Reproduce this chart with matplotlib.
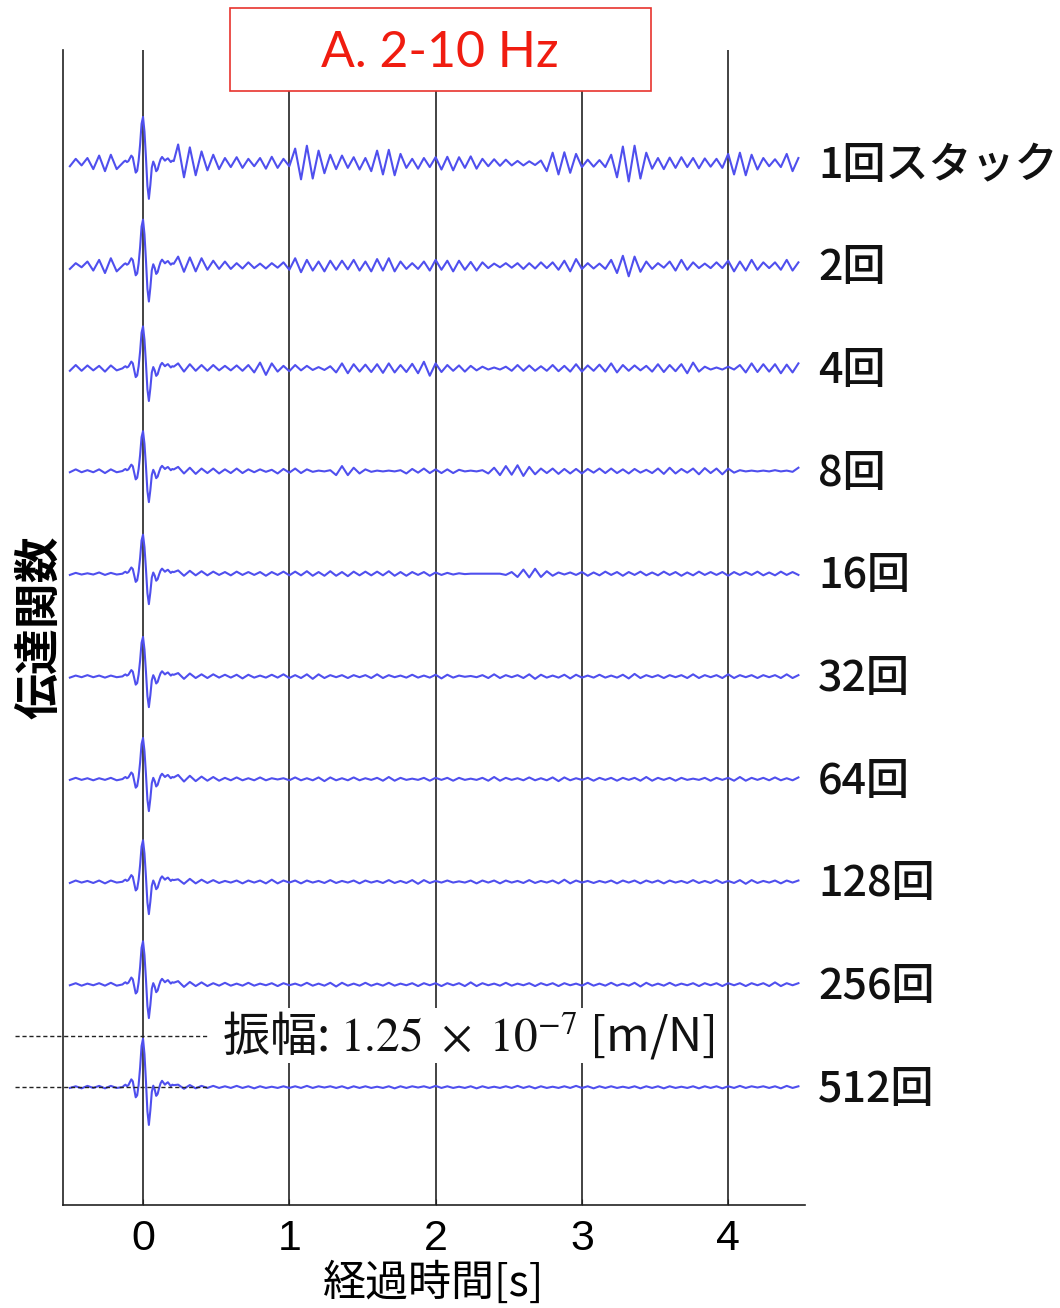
import numpy as np
import matplotlib
matplotlib.use("Agg")
import matplotlib.pyplot as plt
from matplotlib import font_manager
from matplotlib.patches import Rectangle

# ---------------------------------------------------------------
# Data: transfer functions for increasing stack counts (2-10 Hz band)
# amplitudes in units of 1e-9 m/N for noise, pulse normalised
# ---------------------------------------------------------------
stack_labels = ["1回スタック", "2回", "4回", "8回", "16回", "32回",
                "64回", "128回", "256回", "512回"]

# normalised main pulse, sampled every 0.01 s from -0.14 s
pulse_shape = [0.00, 0.03, 0.05, 0.02, 0.04, 0.10, 0.16, 0.12, -0.04, -0.21,
               -0.17, 0.05, 0.40, 0.85, 1.00, 0.68, 0.12, -0.50, -0.78, -0.48,
               -0.10, 0.03, -0.05, -0.18, -0.14, -0.02, 0.08, 0.13, 0.09, 0.05,
               0.08, 0.10, 0.06, 0.02, 0.05, 0.04]
# pulse peak per trace [1e-7 m/N]
pulse_peak = [1.12, 1.12, 1.02, 0.97, 0.95, 0.96, 1.00, 1.01, 1.05, 1.18]

# noise before the pulse: -0.50 ... -0.18 s every 0.04 s  [1e-9 m/N]
pre_1 = [-8, 10, -6, 12, -15, 18, -20, 20, -15]
pre_2 = [-8, 6, -4, 10, -12, 14, -18, 18, -14]
pre_3 = [-6, 8, -6, 7, -5, 6, -8, 7, -5]
pre_4 = [-3, 4, -3, 2, -3, 4, -5, 4, -3]
pre_5 = [-3, 2, -2, 1, -2, 3, -3, 2, -2]
pre_6 = [-3, 2, -2, 3, -2, 2, -3, 2, -2]
pre_7 = [-2, 3, -2, 2, -3, 2, -2, 3, -3]
pre_8 = [-3, 3, -2, 2, -3, 3, -4, 3, -2]
pre_9 = [-2, 3, -3, 2, -2, 3, -3, 4, -3]
pre_10 = [-2, 2, -3, 3, -2, 3, -3, 3, -2]

# noise after the pulse: 0.24 ... 4.48 s every 0.04 s  [1e-9 m/N]
post_1 = [45, -35, 38, -30, 28,
          -18, 20, -15, 12,
          -10, 14, -12, 10, -8, 12, -14, 15, -12, 10, -8,
          35, -40, 42, -38, 30, -25, 20,
          -15, 18, -12, 14, -16, 12,
          -20, 30, -28, 32, -30, 22,
          -12, 10, -14, 12, -10, 14,
          -16, 15, -18, 14, -12, 16, -14,
          10, -8, 9, -7, 8, -6,
          5, -6, 4, -5, 6,
          -20, 25, -28, 26, -24, 22,
          -10, 8, -9, 7, -10,
          20, -35, 40, -45, 42, -38, 25,
          -14, 12, -15, 13, -12, 14, -10, 12, -13, 11, -9, 10, -12,
          22, -28, 25, -30, 20, -16, 12,
          -8, 9, -10, 22, -20, 12]
post_2 = [22, -15, 20, -14, 18,
          -10, 12, -8, 10,
          -8, 6, -7, 8, -6, 5, -7, 6, -5, 8, -10,
          18, -16, 14, -12, 10, -14, 12,
          -10, 12, -9, 14, -12, 10,
          -14, 16, -12, 18, -14, 10,
          -8, 6, -8, 10, -12, 14,
          -10, 12, -14, 12, -10, 9, -12,
          8, -6, 5, -4, 6, -5,
          6, -8, 6, -7, 8,
          -6, 8, -10, 12, -14, 16,
          -8, 6, -7, 5, -8,
          14, -18, 24, -26, 22, -15, 10,
          -8, 6, -5, 10, -12, 14, -10, 8, -6, 5, -6, 8, -6,
          12, -14, 10, -12, 14, -10, 8,
          -6, 8, -10, 14, -12, 8]
post_3 = [12, -8, 10, -6, 8,
          -6, 8, -5, 6,
          -5, 7, -6, 8, -10, 14, -16, 12, -8, 6, -7,
          8, -5, 6, -4, 3, -4, 5,
          -10, 12, -12, 10, -8, 9,
          -9, 10, -11, 12, -10, 8,
          -9, 11, -12, 16, -18, 12,
          -9, 8, -6, 7, -8, 6, -5,
          4, -3, 2, -3, 4, -6,
          8, -6, 7, -6, 5,
          -6, 8, -7, 6, -8, 10,
          -8, 7, -6, 9, -8,
          12, -10, 8, -6, 7, -5, 6,
          -8, 10, -9, 8, -7, 10, -12, 14, -8, 4, -3, 2, -3,
          4, -3, 8, -10, 12, -9, 10,
          -8, 10, -12, 9, -10, 12]
post_4 = [10, -6, 8, -7, 6,
          -5, 6, -6, 4,
          -5, 6, -5, 4, -3, 4, -2, 3, -6, 5, -4,
          6, -5, 4, -2, 1, -1, 2,
          -10, 12, -10, 8, -6, 4,
          -2, 1, -1, 1, -1, 2,
          -6, 5, -4, 6, -5, 4,
          -5, 4, -5, 3, -1, 1, -1,
          2, -6, 8, -10, 12, -9,
          14, -12, 10, -8, 6,
          -5, 6, -7, 5, -6, 5,
          -6, 5, -4, 6, -5,
          6, -5, 4, -6, 5, -4, 3,
          -5, 6, -7, 8, -6, 5, -4, 6, -8, 7, -5, 6, -8,
          6, -4, 2, -1, 1, -1, 1,
          -1, 2, -1, 1, -2, 8]
post_5 = [8, -5, 7, -4, 6,
          -4, 5, -3, 4,
          -4, 5, -3, 4, -3, 4, -5, 4, -3, 5, -4,
          5, -4, 6, -5, 4, -5, 6,
          -5, 4, -6, 5, -4, 5,
          -4, 5, -4, 6, -5, 4,
          -5, 4, -3, 4, -5, 3,
          -3, 2, -2, 1, -1, 0, 0,
          0, 0, 0, 0, -3, 4,
          -8, 10, -9, 12, -8,
          6, -5, 3, -2, 3, -3,
          4, -5, 3, -4, 5,
          -3, 4, -5, 4, -3, 5, -4,
          3, -4, 5, -3, 4, -5, 3, -4, 5, -3, 4, -3, 4,
          -5, 4, -3, 4, -3, 5, -4,
          3, -4, 5, -3, 4, -3]
post_6 = [8, -6, 7, -4, 5,
          -4, 5, -3, 4,
          -3, 4, -5, 4, -3, 2, -3, 4, -3, 5, -4,
          3, -4, 5, -6, 5, -4, 3,
          -2, 3, -4, 3, -2, 3,
          -4, 5, -4, 3, -2, 2,
          -3, 4, -3, 2, -3, 4,
          -5, 4, -3, 2, -1, 1, -2,
          3, -4, 5, -4, 3, -2,
          3, -4, 5, -6, 4,
          -3, 2, -3, 4, -5, 4,
          -3, 2, -3, 4, -3,
          2, -3, 4, -5, 6, -4, 3,
          -2, 3, -4, 3, -2, 3, -4, 5, -4, 3, -2, 3, -4,
          5, -4, 3, -2, 3, -4, 3,
          -2, 3, -4, 5, -4, 3]
post_7 = [10, -6, 8, -5, 6,
          -4, 5, -4, 3,
          -3, 4, -3, 2, -3, 4, -3, 2, -1, 2, -3,
          4, -3, 2, -3, 4, -5, 4,
          -3, 2, -3, 4, -3, 2,
          -2, 3, -4, 5, -4, 3,
          -2, 1, -2, 3, -4, 3,
          -2, 3, -4, 3, -2, 1, -2,
          3, -4, 5, -4, 3, -2,
          2, -3, 4, -3, 2,
          -3, 4, -5, 4, -3, 2,
          -2, 3, -4, 3, -2,
          3, -4, 3, -2, 3, -4, 5,
          -4, 3, -2, 3, -4, 3, -2, 1, -2, 3, -4, 3, -2,
          3, -4, 5, -4, 3, -2, 3,
          -3, 4, -3, 2, -3, 4]
post_8 = [6, -5, 7, -4, 5,
          -3, 4, -3, 2,
          -2, 3, -4, 3, -2, 3, -4, 5, -4, 3, -2,
          3, -4, 3, -2, 2, -3, 4,
          -3, 2, -2, 3, -4, 3,
          -2, 2, -3, 4, -3, 2,
          -3, 4, -5, 4, -3, 2,
          -2, 3, -2, 1, -2, 3, -4,
          3, -2, 3, -4, 3, -2,
          2, -3, 4, -3, 2,
          -2, 3, -4, 5, -4, 3,
          -2, 2, -3, 2, -2,
          3, -4, 3, -2, 3, -4, 3,
          -2, 3, -4, 3, -2, 2, -3, 4, -3, 2, -3, 4, -3,
          2, -3, 4, -5, 4, -3, 2,
          -2, 3, -4, 3, -2, 3]
post_9 = [8, -6, 6, -4, 5,
          -4, 3, -3, 4,
          -3, 2, -3, 4, -3, 2, -2, 3, -4, 3, -2,
          2, -3, 4, -3, 2, -3, 4,
          -5, 4, -3, 2, -3, 4,
          -3, 2, -3, 4, -3, 2,
          -2, 3, -4, 3, -2, 3,
          -4, 3, -2, 3, -4, 5, -4,
          3, -2, 2, -3, 4, -3,
          2, -2, 3, -4, 3,
          -2, 3, -4, 3, -2, 2,
          -3, 4, -3, 2, -3,
          4, -3, 2, -3, 4, -5, 4,
          -3, 2, -3, 4, -3, 2, -2, 3, -4, 3, -2, 3, -4,
          3, -2, 3, -4, 3, -2, 3,
          -4, 5, -4, 3, -2, 3]
post_10 = [6, -4, 5, -3, 3,
           -2, 3, -2, 2,
           -2, 3, -2, 2, -3, 2, -2, 1, -2, 2, -2,
           2, -2, 3, -2, 2, -1, 2,
           -2, 2, -3, 2, -2, 2,
           -2, 1, -2, 2, -3, 2,
           -2, 2, -1, 2, -2, 3,
           -2, 2, -2, 1, -2, 2, -3,
           2, -2, 1, -2, 2, -2,
           3, -2, 2, -3, 2,
           -2, 1, -2, 2, -2, 3,
           -2, 2, -3, 2, -2,
           2, -2, 1, -2, 2, -3, 2,
           -2, 2, -3, 2, -2, 1, -2, 2, -3, 2, -2, 2, -3,
           2, -2, 3, -2, 2, -1, 2,
           -2, 2, -3, 3, -2, 2]

pre_noise = [pre_1, pre_2, pre_3, pre_4, pre_5,
             pre_6, pre_7, pre_8, pre_9, pre_10]
post_noise = [post_1, post_2, post_3, post_4, post_5,
              post_6, post_7, post_8, post_9, post_10]

time_ticks = [0, 1, 2, 3, 4]
trace_spacing = 2.5          # vertical offset between traces [1e-7 m/N]
scale_amp = 1.25             # amplitude scale bar [1e-7 m/N]

# ---------------------------------------------------------------
# Fonts
# ---------------------------------------------------------------
installed = {f.name for f in font_manager.fontManager.ttflist}
cjk = "Noto Sans CJK JP"
narrow = "Liberation Sans Narrow" if "Liberation Sans Narrow" in installed else "Liberation Sans"
plt.rcParams["font.family"] = [cjk, "DejaVu Sans"]
plt.rcParams["mathtext.fontset"] = "stix"

W, H = 1060, 1308
fig = plt.figure(figsize=(W / 100, H / 100), dpi=100)
ax = fig.add_axes([63 / W, 1 - 1205 / H, (805 - 63) / W, (1205 - 50) / H])

trace_color = "#4f4fee"
t_pre = -0.50 + 0.04 * np.arange(len(pre_1))
t_pulse = -0.14 + 0.01 * np.arange(len(pulse_shape))

for i in range(len(stack_labels)):
    base = -trace_spacing * i
    t_post = 0.24 + 0.04 * np.arange(len(post_noise[i]))
    t = np.concatenate([t_pre, t_pulse, t_post])
    y = np.concatenate([np.array(pre_noise[i]) / 100.0,
                        np.array(pulse_shape) * pulse_peak[i],
                        np.array(post_noise[i]) / 100.0])
    ax.plot(t, base + y, color=trace_color, lw=1.5, zorder=3,
            solid_joinstyle="round")
    ax.text(1.0175, base - 0.05, stack_labels[i], transform=ax.get_yaxis_transform(),
            ha="left", va="center", fontsize=31, color="#111111",
            fontweight="medium", family=[cjk, "DejaVu Sans"])

# vertical time grid lines
for tk in time_ticks:
    ax.axvline(tk, color="#222222", lw=1.2, zorder=2)

n = len(stack_labels)
ax.set_xlim(-0.547, 4.525)
ax.set_ylim(-trace_spacing * (n - 1) - 2.87, 2.75)

ax.spines["top"].set_visible(False)
ax.spines["right"].set_visible(False)
for s in ("left", "bottom"):
    ax.spines[s].set_color("#222222")
    ax.spines[s].set_linewidth(1.2)
ax.set_yticks([])
ax.set_xticks(time_ticks)
ax.set_xticklabels([str(v) for v in time_ticks], family=narrow, fontsize=31)
ax.tick_params(axis="x", direction="in", length=4, pad=10, color="#222222")

ax.set_xlabel("経過時間[s]", fontsize=31, labelpad=2, family=[cjk, "DejaVu Sans"])
ax.set_ylabel("伝達関数", fontsize=33, labelpad=0, fontweight="bold",
              family=[cjk, "DejaVu Sans"])

# amplitude scale: two dashed reference levels and annotation
last_base = -trace_spacing * (n - 1)
for lvl in (last_base + scale_amp, last_base):
    ax.plot([-0.875, 0.45], [lvl, lvl], ls=(0, (3, 2)), color="#222222",
            lw=1.0, clip_on=False, zorder=4)
ax.text(0.54, last_base + scale_amp,
        r"振幅: $1.25\ \times\ 10^{-7}$ [m/N]",
        ha="left", va="center", fontsize=34, color="#111111",
        family=[cjk, "DejaVu Sans"], zorder=5,
        bbox=dict(facecolor="white", edgecolor="none", pad=1))

# band title box
fig.patches.append(Rectangle((230 / W, 1 - 91 / H), 421 / W, 83 / H,
                             transform=fig.transFigure, facecolor="white",
                             edgecolor="#e8332e", lw=1.2, zorder=10))
fig.text(440 / W, 1 - 53 / H, "A. 2-10 Hz", ha="center", va="center",
         fontsize=36, color="#f01c10", family="Lato", zorder=11)

fig.savefig("out.png", dpi=100, facecolor="white")
